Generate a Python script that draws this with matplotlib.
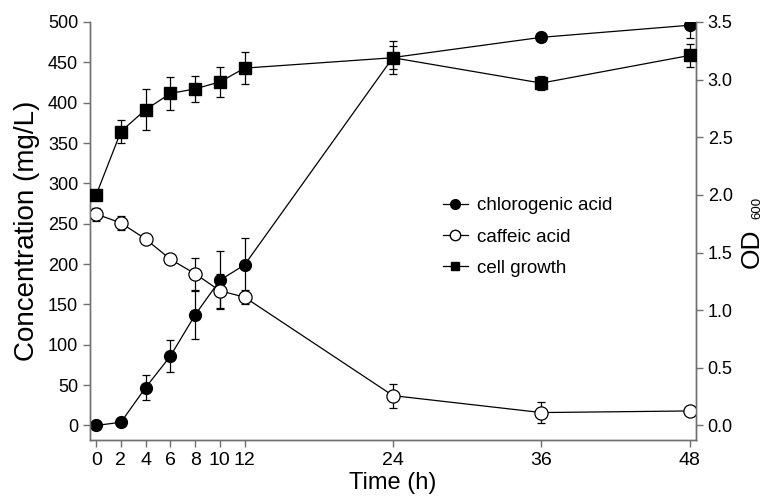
import matplotlib
matplotlib.use("Agg")
import matplotlib.pyplot as plt
from matplotlib.lines import Line2D

plt.rcParams['font.family'] = ['Liberation Sans', 'DejaVu Sans']

time = [0, 2, 4, 6, 8, 10, 12, 24, 36, 48]
chlorogenic = [0, 4, 47, 86, 137, 180, 199, 456, 481, 496]
chlorogenic_err = [3, 3, 16, 20, 30, 36, 33, 20, 3, 16]
caffeic = [262, 251, 231, 206, 188, 167, 159, 37, 16, 18]
caffeic_err = [8, 9, 3, 3, 20, 21, 9, 15, 13, 3]
od600 = [2.0, 2.55, 2.74, 2.88, 2.92, 2.98, 3.10, 3.19, 2.97, 3.21]
od600_err = [0.02, 0.10, 0.18, 0.14, 0.11, 0.13, 0.14, 0.10, 0.06, 0.10]

x_ticks = [0, 2, 4, 6, 8, 10, 12, 24, 36, 48]
left_ticks = list(range(0, 501, 50))
right_ticks = [0.0, 0.5, 1.0, 1.5, 2.0, 2.5, 3.0, 3.5]

fig = plt.figure(figsize=(7.66, 5.0), dpi=100)
ax = fig.add_axes([0.1175, 0.12, 0.791, 0.836])
ax2 = ax.twinx()

spine_col = '#707070'
lw = 0.9
ms = 8.5

ax.errorbar(time, chlorogenic, yerr=chlorogenic_err, fmt='-o', color='black',
            mfc='black', mec='black', ms=ms, lw=lw, elinewidth=0.9, capsize=3,
            capthick=0.9, zorder=3)
ax.errorbar(time, caffeic, yerr=caffeic_err, fmt='-o', color='black',
            mfc='white', mec='black', ms=ms + 1, lw=lw, mew=0.9, elinewidth=0.9,
            capsize=3, capthick=0.9, zorder=3)
ax2.errorbar(time, od600, yerr=od600_err, fmt='-s', color='black',
             mfc='black', mec='black', ms=ms - 0.5, lw=lw, elinewidth=0.9, capsize=3,
             capthick=0.9, zorder=3)

ax.set_xlim(-0.5, 48.5)
ax.set_ylim(-18, 500)
ax2.set_ylim(-18 * 3.5 / 500, 3.5)

ax.set_xticks(x_ticks)
ax.set_yticks(left_ticks)
ax2.set_yticks(right_ticks)
ax2.set_yticklabels([f"{v:.1f}" for v in right_ticks])

for a in (ax, ax2):
    a.spines['top'].set_visible(False)
    for s in ('left', 'right', 'bottom'):
        a.spines[s].set_color(spine_col)
        a.spines[s].set_linewidth(1.0)
    a.tick_params(direction='out', color=spine_col, length=5, width=1.0, labelsize=13)
ax.tick_params(axis='x', labelsize=14)
ax.spines['left'].set_bounds(-18, 500)
ax2.spines['right'].set_bounds(-18 * 3.5 / 500, 3.5)

ax.set_xlabel('Time (h)', fontsize=17, labelpad=2)
ax.set_ylabel('Concentration (mg/L)', fontsize=20, labelpad=6)
fig.text(752 / 766, 1 - 248 / 500, 'OD', rotation=90, ha='center', va='center', fontsize=19)
fig.text(757 / 766, 1 - 208 / 500, '600', rotation=90, ha='center', va='center', fontsize=9.5)

handles = [
    Line2D([], [], color='black', lw=lw, marker='o', mfc='black', mec='black', ms=7),
    Line2D([], [], color='black', lw=lw, marker='o', mfc='white', mec='black', ms=7.5),
    Line2D([], [], color='black', lw=lw, marker='s', mfc='black', mec='black', ms=6),
]
labels = ['chlorogenic acid', 'caffeic acid', 'cell growth']
ax.legend(handles, labels, loc='upper left', bbox_to_anchor=(0.555, 0.621),
          frameon=False, fontsize=13.5, handlelength=1.3, handletextpad=0.5,
          labelspacing=0.75)

fig.savefig('out.png', dpi=100)
